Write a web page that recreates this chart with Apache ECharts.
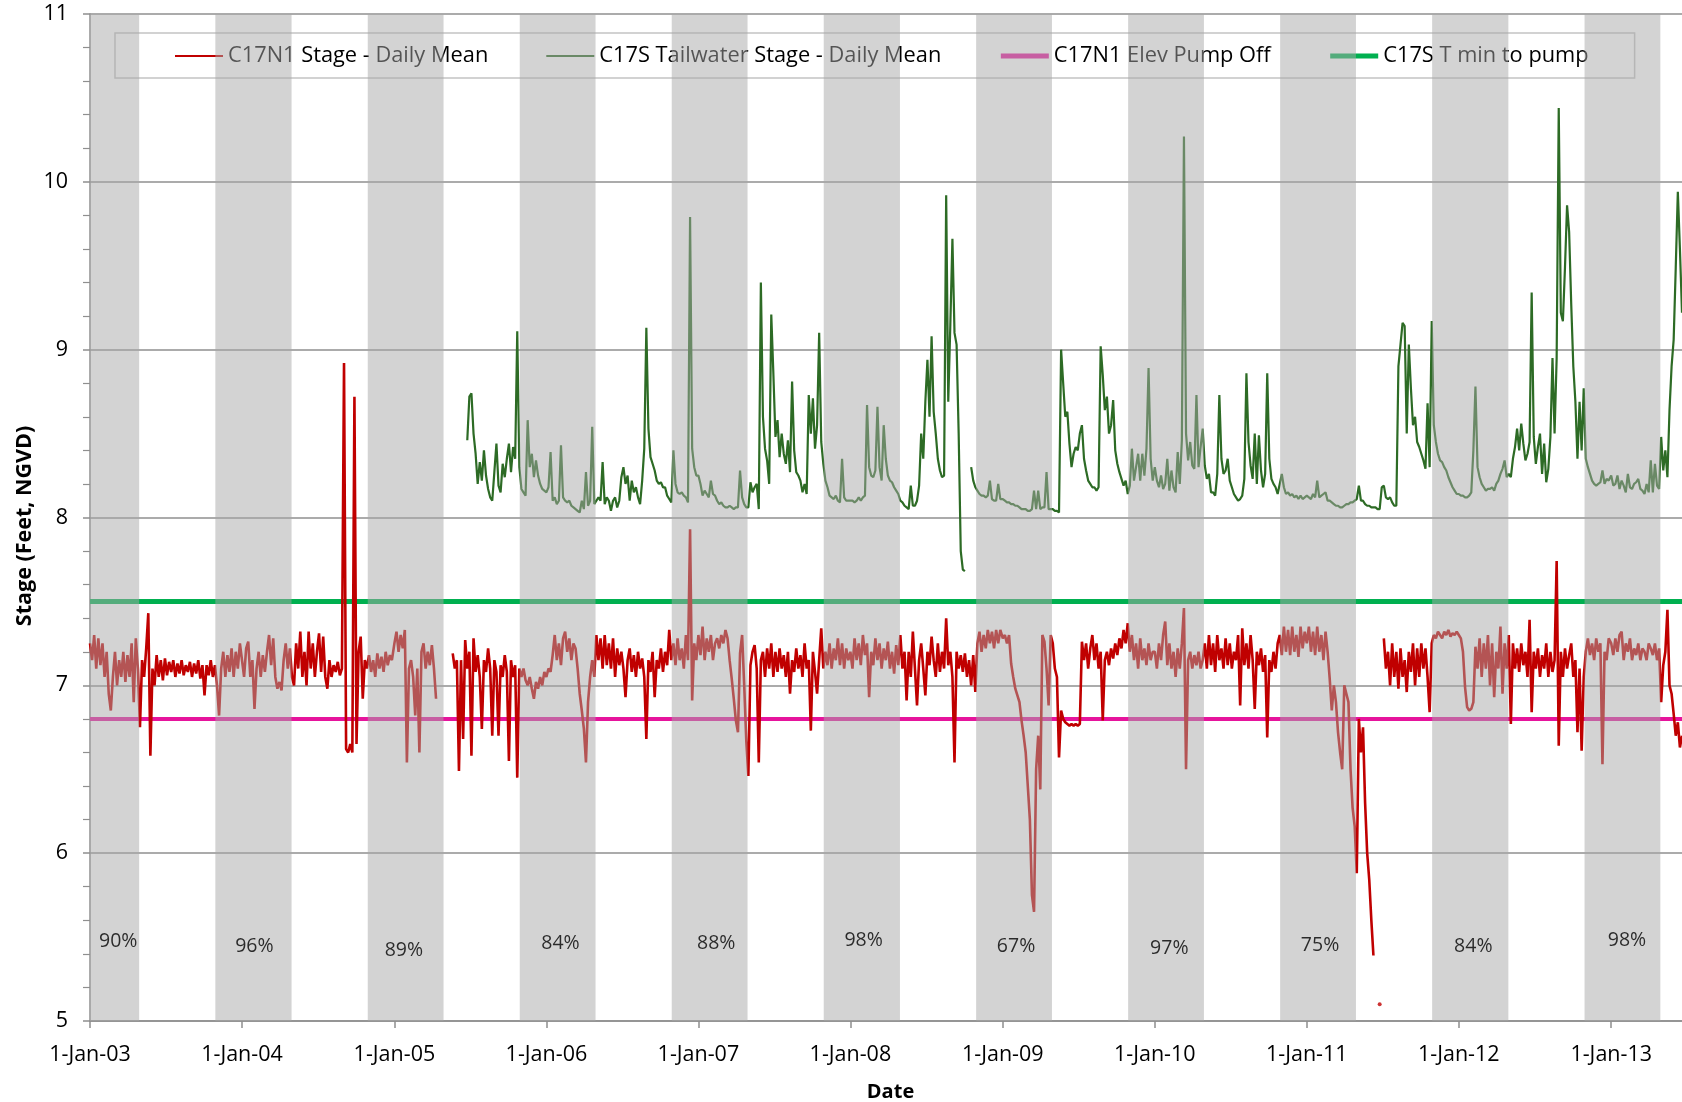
<!DOCTYPE html>
<html><head><meta charset="utf-8">
<script src="https://cdn.jsdelivr.net/npm/echarts@6/dist/echarts.min.js"></script>
<style>html,body{margin:0;padding:0;background:#fff}#c{width:1682px;height:1102px}</style>
</head><body><div id="c"></div>
<script>
const STEP = 5; // days between stored readings
// C17N1 Stage - Daily Mean (one reading every 5 days from Jan 1 of each year)
const c17n1_2003 = [7.25,7.15,7.3,7.1,7.28,7.12,7.25,7.05,7.2,6.95,6.85,7.05,7.2,7.0,7.15,7.05,7.2,7.02,7.18,7.05,7.25,6.9,7.28,7.1,6.75,7.15,7.05,7.22,7.43,6.58,7.1,7.0,7.18,7.05,7.15,7.03,7.16,7.06,7.14,7.08,7.15,7.05,7.13,7.07,7.15,7.06,7.12,7.08,7.14,7.05,7.13,7.07,7.15,7.04,7.12,6.94,7.12,7.06,7.15,7.05,7.12,7.0,6.82,7.1,7.2,7.05,7.18,7.08,7.22,7.05,7.2,7.1,7.25];
const c17n1_2004 = [7.15,7.05,7.22,7.26,7.05,7.15,6.86,7.1,7.2,7.05,7.18,7.08,7.2,7.3,7.12,7.28,7.05,6.98,7.02,6.97,7.15,7.25,7.1,7.22,7.05,7.0,7.25,7.1,7.32,7.05,7.2,7.0,7.32,7.1,7.25,7.05,7.2,7.31,7.08,7.29,7.05,6.98,7.15,7.05,7.12,7.08,7.14,7.06,7.1,8.92,6.62,6.6,6.65,6.6,8.72,6.65,7.2,7.29,6.92,7.15,7.1,7.18,7.08,7.15,7.05,7.19,7.1,7.17,7.08,7.2,7.12,7.18,7.15];
const c17n1_2005 = [7.25,7.32,7.2,7.3,7.22,7.33,6.54,7.1,7.15,7.05,6.82,7.1,6.6,7.2,7.25,7.1,7.2,7.12,7.24,7.1,6.92,null,null,null,null,null,null,null,7.19,7.1,7.15,6.49,7.15,6.68,7.27,7.1,7.2,6.58,7.28,7.08,7.18,7.05,6.74,7.15,7.08,7.22,7.1,6.7,7.15,7.08,6.7,7.12,7.05,7.18,7.08,6.55,7.15,7.05,7.12,6.45,7.1,7.05,7.1,7.03,7.0,7.05,6.98,6.92,7.02,6.98,7.05,7.0,7.08];
const c17n1_2006 = [7.05,7.1,7.08,7.18,7.3,7.15,7.25,7.12,7.28,7.32,7.2,7.28,7.15,7.25,7.22,7.1,6.95,6.85,6.74,6.54,6.9,7.05,7.15,7.05,7.3,7.15,7.28,7.1,7.3,7.12,7.25,7.1,7.28,7.05,7.22,7.12,7.2,7.1,6.93,7.15,7.22,7.08,7.18,7.05,7.2,7.1,7.16,7.05,6.68,7.15,7.08,7.2,6.93,7.15,7.1,7.22,7.08,7.2,7.12,7.33,7.15,7.25,7.12,7.28,7.15,7.22,7.1,7.3,7.15,7.93,6.91,7.25,7.15];
const c17n1_2007 = [7.3,7.18,7.35,7.15,7.28,7.2,7.3,7.15,7.25,7.28,7.22,7.3,7.25,7.33,7.28,7.15,7.04,6.92,6.79,6.72,7.19,7.3,7.0,6.67,6.46,7.12,7.2,7.24,7.1,6.54,7.15,7.2,7.05,7.22,7.1,7.25,7.05,7.2,7.08,7.22,7.1,7.18,7.05,7.2,6.95,7.15,7.08,7.22,7.1,7.18,7.05,7.25,7.1,7.15,6.73,7.2,7.08,6.95,7.15,7.34,7.1,7.2,7.12,7.25,7.1,7.22,7.15,7.28,7.12,7.25,7.1,7.22,7.15];
const c17n1_2008 = [7.2,7.1,7.28,7.15,7.25,7.12,7.3,7.18,7.25,6.93,7.2,7.12,7.28,7.15,7.25,7.1,7.22,7.15,7.26,7.1,7.2,7.07,7.24,7.12,7.3,7.1,7.2,6.91,7.2,7.05,7.32,7.1,6.88,7.15,7.25,7.1,6.94,7.2,7.12,7.29,7.15,7.05,7.25,7.08,7.2,7.1,7.4,7.12,7.2,7.05,6.54,7.2,7.1,7.18,7.08,7.19,7.05,7.15,7.0,7.18,6.96,7.25,7.32,7.2,7.3,7.22,7.33,7.25,7.32,7.22,7.33,7.25,7.33];
const c17n1_2009 = [7.28,7.3,7.25,7.3,7.13,7.05,6.98,6.94,6.9,6.79,6.7,6.6,6.4,6.2,5.75,5.65,6.5,6.7,6.38,7.3,7.26,7.1,6.88,7.3,7.25,7.1,7.05,6.57,6.85,6.8,6.78,6.77,6.76,6.77,6.76,6.77,6.76,6.77,7.26,7.15,7.25,7.1,7.22,7.3,7.15,7.25,7.1,7.2,6.79,7.15,7.2,7.12,7.22,7.16,7.25,7.18,7.28,7.22,7.33,7.25,7.37,7.2,7.3,7.15,7.25,7.1,7.28,7.15,7.22,7.12,7.25,7.15,7.2];
const c17n1_2010 = [7.2,7.1,7.25,7.15,7.3,7.38,7.12,7.25,7.1,7.2,7.05,7.22,7.1,7.25,7.46,6.5,7.15,7.2,7.1,7.18,7.12,7.2,7.1,7.15,7.25,7.1,7.3,7.12,7.25,7.08,7.3,7.15,7.22,7.1,7.28,7.12,7.25,7.1,7.2,7.15,7.3,6.88,7.34,7.12,7.25,7.1,7.3,7.15,6.86,7.2,7.12,7.22,7.08,7.18,6.69,7.15,7.08,7.2,7.1,7.25,7.3,7.18,7.35,7.2,7.33,7.18,7.35,7.2,7.3,7.17,7.35,7.22,7.32];
const c17n1_2011 = [7.25,7.35,7.2,7.32,7.18,7.35,7.2,7.3,7.15,7.32,7.2,7.04,6.85,7.0,6.9,6.72,6.6,6.5,7.0,6.95,6.9,6.5,6.27,6.16,5.88,6.8,6.6,6.75,6.3,6.0,5.84,5.6,5.39,null,null,null,null,7.28,7.1,7.2,7.0,7.25,7.05,7.2,6.98,7.22,7.05,7.15,6.96,7.2,7.08,7.25,7.0,7.22,7.05,7.25,7.1,7.22,7.05,6.84,7.25,7.3,7.28,7.32,7.3,7.28,7.32,7.3,7.33,7.29,7.31,7.3,7.32];
const c17n1_2012 = [7.3,7.28,7.2,6.99,6.87,6.85,6.86,6.9,7.23,7.1,7.28,7.05,7.25,7.1,7.3,7.0,7.25,6.93,7.2,7.1,7.35,6.95,7.25,7.1,7.3,6.77,7.25,7.1,7.22,7.08,7.25,7.12,7.2,7.05,7.39,6.84,7.2,7.1,7.22,7.05,7.18,7.1,7.25,7.05,7.2,7.08,7.15,7.74,6.64,7.2,7.05,7.22,7.1,7.18,7.25,7.05,7.15,6.72,7.1,6.61,7.05,7.2,7.28,7.18,7.25,7.15,7.28,7.2,7.25,6.53,7.2,7.15,7.28];
const c17n1_2013 = [7.25,7.18,7.28,7.2,7.3,7.32,7.15,7.25,7.2,7.28,7.15,7.22,7.18,7.25,7.15,7.22,7.2,7.15,7.25,7.22,7.18,7.25,7.15,7.22,6.9,7.12,7.2,7.45,7.0,6.95,6.83,6.7,6.78,6.63,6.7];
const c17n1Isolated = [['2011-06-25', 5.1]];

// C17S Tailwater Stage - Daily Mean
const c17s_2005 = [8.46,8.72,8.74,8.5,8.38,8.2,8.33,8.22,8.4,8.25,8.17,8.12,8.1,8.27,8.44,8.19,8.15,8.32,8.24,8.35,8.44,8.27,8.42,8.35,9.11,8.3,8.17,8.15,8.13,8.58,8.3,8.38,8.24,8.34,8.25,8.2,8.17,8.16];
const c17s_2006 = [8.15,8.18,8.39,8.1,8.12,8.08,8.1,8.43,8.12,8.1,8.09,8.1,8.07,8.06,8.05,8.04,8.03,8.1,8.05,8.27,8.07,8.1,8.54,8.08,8.1,8.12,8.1,8.33,8.08,8.12,8.1,8.04,8.1,8.12,8.06,8.1,8.24,8.3,8.2,8.25,8.1,8.22,8.15,8.18,8.12,8.08,8.22,8.41,9.13,8.53,8.36,8.32,8.28,8.22,8.2,8.21,8.18,8.18,8.13,8.11,8.09,8.4,8.2,8.15,8.14,8.15,8.13,8.12,8.09,9.79,8.41,8.3,8.25];
const c17s_2007 = [8.25,8.2,8.13,8.16,8.14,8.12,8.22,8.14,8.13,8.1,8.08,8.09,8.07,8.06,8.06,8.07,8.06,8.05,8.06,8.06,8.28,8.12,8.08,8.06,8.06,8.21,8.15,8.18,8.2,8.05,9.4,8.6,8.41,8.34,8.2,9.21,8.86,8.48,8.58,8.36,8.5,8.38,8.32,8.46,8.27,8.81,8.4,8.27,8.25,8.22,8.15,8.2,8.14,8.73,8.5,8.71,8.41,8.55,9.1,8.45,8.32,8.22,8.18,8.13,8.12,8.11,8.13,8.1,8.09,8.35,8.12,8.1,8.1];
const c17s_2008 = [8.1,8.1,8.09,8.1,8.12,8.1,8.12,8.13,8.67,8.3,8.25,8.24,8.28,8.66,8.3,8.22,8.55,8.35,8.25,8.22,8.21,8.18,8.16,8.14,8.1,8.09,8.07,8.06,8.05,8.19,8.07,8.07,8.1,8.19,8.5,8.35,8.69,8.94,8.6,9.08,8.63,8.5,8.35,8.28,8.24,8.25,9.92,8.69,9.15,9.66,9.1,9.03,8.5,7.8,7.69,7.68,null,null,8.3,8.22,8.18,8.16,8.14,8.13,8.13,8.12,8.13,8.22,8.11,8.1,8.1,8.2,8.11];
const c17s_2009 = [8.11,8.1,8.09,8.09,8.08,8.08,8.07,8.07,8.06,8.05,8.05,8.05,8.04,8.04,8.05,8.16,8.05,8.16,8.05,8.06,8.06,8.27,8.05,8.05,8.05,8.04,8.04,8.03,9.0,8.8,8.6,8.63,8.44,8.3,8.38,8.42,8.4,8.5,8.55,8.35,8.28,8.22,8.2,8.18,8.18,8.16,8.18,9.02,8.85,8.64,8.72,8.5,8.55,8.7,8.4,8.32,8.27,8.23,8.19,8.22,8.14,8.19,8.41,8.22,8.3,8.38,8.22,8.38,8.25,8.41,8.89,8.35,8.22];
const c17s_2010 = [8.3,8.22,8.18,8.25,8.17,8.2,8.35,8.16,8.28,8.18,8.15,8.39,8.2,8.46,10.27,8.5,8.34,8.45,8.31,8.29,8.73,8.3,8.42,8.53,8.31,8.23,8.26,8.15,8.15,8.13,8.26,8.73,8.35,8.26,8.28,8.35,8.22,8.18,8.14,8.12,8.1,8.11,8.13,8.23,8.86,8.45,8.31,8.23,8.5,8.2,8.49,8.28,8.18,8.26,8.86,8.35,8.23,8.2,8.18,8.14,8.2,8.26,8.18,8.14,8.15,8.13,8.14,8.12,8.13,8.11,8.13,8.11,8.12];
const c17s_2011 = [8.13,8.12,8.11,8.14,8.12,8.22,8.12,8.13,8.14,8.15,8.1,8.1,8.09,8.08,8.07,8.07,8.06,8.06,8.07,8.08,8.08,8.09,8.09,8.1,8.11,8.19,8.1,8.1,8.08,8.07,8.07,8.06,8.06,8.06,8.05,8.05,8.18,8.19,8.12,8.11,8.12,8.09,8.07,8.07,8.9,9.03,9.16,9.14,8.5,9.03,8.77,8.55,8.6,8.45,8.42,8.38,8.34,8.29,8.68,8.3,9.17,8.55,8.45,8.38,8.34,8.33,8.3,8.28,8.24,8.21,8.18,8.16,8.14];
const c17s_2012 = [8.14,8.13,8.13,8.12,8.12,8.13,8.15,8.4,8.78,8.3,8.24,8.2,8.18,8.16,8.17,8.17,8.18,8.16,8.2,8.22,8.26,8.29,8.34,8.24,8.26,8.24,8.35,8.42,8.53,8.4,8.56,8.44,8.34,8.38,8.45,9.34,8.48,8.32,8.42,8.5,8.26,8.44,8.21,8.29,8.48,8.95,8.5,8.95,10.44,9.22,9.17,9.49,9.86,9.7,9.27,8.9,8.69,8.35,8.69,8.4,8.77,8.35,8.3,8.26,8.22,8.2,8.19,8.2,8.21,8.28,8.2,8.23,8.22];
const c17s_2013 = [8.25,8.19,8.2,8.25,8.17,8.22,8.19,8.15,8.26,8.18,8.17,8.2,8.21,8.23,8.17,8.16,8.14,8.2,8.15,8.34,8.15,8.32,8.19,8.17,8.48,8.28,8.4,8.24,8.64,8.9,9.06,9.49,9.94,9.6,9.22];

// [year, first day offset, readings]
const c17n1Segments = [[2003,0,c17n1_2003],[2004,0,c17n1_2004],[2005,0,c17n1_2005],[2006,0,c17n1_2006],[2007,0,c17n1_2007],[2008,0,c17n1_2008],[2009,0,c17n1_2009],[2010,0,c17n1_2010],[2011,0,c17n1_2011],[2012,0,c17n1_2012],[2013,0,c17n1_2013]];
const c17sSegments = [[2005,175,c17s_2005],[2006,0,c17s_2006],[2007,0,c17s_2007],[2008,0,c17s_2008],[2009,0,c17s_2009],[2010,0,c17s_2010],[2011,0,c17s_2011],[2012,0,c17s_2012],[2013,0,c17s_2013]];

const pumpOffElev = 6.8;   // C17N1 Elev Pump Off
const tMinToPump = 7.5;    // C17S T min to pump

// shaded dry-season bands and their percentages
const bandStarts = ['2003-01-01','2003-10-29','2004-10-29','2005-10-29','2006-10-29','2007-10-29','2008-10-29','2009-10-29','2010-10-29','2011-10-29','2012-10-29'];
const bandEnds   = ['2003-04-29','2004-04-29','2005-04-29','2006-04-29','2007-04-29','2008-04-29','2009-04-29','2010-04-29','2011-04-29','2012-04-29','2013-04-29'];
const bandPct    = ['90%','96%','89%','84%','88%','98%','67%','97%','75%','84%','98%'];
const pctDates   = ['2003-03-11','2004-02-01','2005-01-25','2006-02-05','2007-02-14','2008-02-03','2009-02-03','2010-02-06','2011-02-03','2012-02-06','2013-02-09'];
const pctY       = [5.47,5.44,5.42,5.46,5.46,5.48,5.44,5.43,5.45,5.44,5.48];

const xMin = '2003-01-01', xMax = '2013-06-20';
const xTickDates = ['2003-01-01','2004-01-01','2005-01-01','2006-01-01','2007-01-01','2008-01-01','2009-01-01','2010-01-01','2011-01-01','2012-01-01','2013-01-01'];
const yTicks = {min:5, max:11, interval:1};
const MONTHS = ['Jan','Feb','Mar','Apr','May','Jun','Jul','Aug','Sep','Oct','Nov','Dec'];

const ts = s => { const p = s.split('-').map(Number); return new Date(p[0], p[1] - 1, p[2]).getTime(); };
function build(segs){
  const out = [];
  segs.forEach(([y, start, vals]) => {
    vals.forEach((v, i) => {
      out.push([new Date(y, 0, 1 + start + i * STEP).getTime(), v == null ? null : v]);
    });
  });
  return out;
}
const FONT = "'Open Sans', sans-serif";
const AX = '#8f8f8f';
const chart = echarts.init(document.getElementById('c'));
chart.setOption({
  animation: false,
  textStyle: {fontFamily: FONT},
  grid: {left: 90, right: 0, top: 14, bottom: 81, containLabel: false, outerBoundsMode: 'none'},
  legend: {
    z: 3, left: 115, top: 33, itemWidth: 48, itemHeight: 14, itemGap: 57,
    padding: [12, 46, 11, 59], borderColor: '#c4c4c4', borderWidth: 1.5, backgroundColor: '#fff',
    itemStyle: {opacity: 0},
    textStyle: {fontSize: 21.8, color: '#000', fontFamily: FONT},
    data: [
      {name: 'C17N1 Stage - Daily Mean', lineStyle: {width: 2}},
      {name: 'C17S Tailwater Stage - Daily Mean', lineStyle: {width: 2}},
      {name: 'C17N1 Elev Pump Off', lineStyle: {width: 5}},
      {name: 'C17S T min to pump', lineStyle: {width: 5}}
    ]
  },
  xAxis: {
    type: 'value', min: ts(xMin), max: ts(xMax),
    axisLine: {lineStyle: {color: AX, width: 1.5}},
    axisTick: {show: true, length: 7, lineStyle: {color: AX, width: 1.5}, customValues: xTickDates.map(ts)},
    splitLine: {show: false},
    axisLabel: {
      fontSize: 21.5, color: '#000', margin: 23, fontFamily: FONT,
      customValues: xTickDates.map(ts),
      formatter: v => { const d = new Date(v); return d.getDate() + '-' + MONTHS[d.getMonth()] + '-' + String(d.getFullYear()).slice(2); }
    },
    name: 'Date', nameLocation: 'middle', nameGap: 61, nameMoveOverlap: false,
    nameTextStyle: {fontWeight: 'bold', fontSize: 20, color: '#000', fontFamily: FONT, padding: [0, 0, 0, 9]}
  },
  yAxis: {
    type: 'value', min: yTicks.min, max: yTicks.max, interval: yTicks.interval,
    axisLine: {show: true, lineStyle: {color: AX, width: 1.5}},
    axisTick: {show: true, length: 7, lineStyle: {color: AX, width: 1.5}},
    minorTick: {show: true, splitNumber: 5, length: 7, lineStyle: {color: AX, width: 1.2}},
    splitLine: {show: true, lineStyle: {color: AX, width: 1.5}},
    axisLabel: {fontSize: 21.5, color: '#000', margin: 22, fontFamily: FONT},
    name: 'Stage (Feet, NGVD)', nameLocation: 'middle', nameGap: 54, nameMoveOverlap: false,
    nameTextStyle: {fontWeight: 'bold', fontSize: 21.5, color: '#000', fontFamily: FONT, padding: [0, 17, 0, 0]}
  },
  series: [
    {name: 'C17N1 Elev Pump Off', type: 'line', symbol: 'none', z: 2, silent: true,
     data: [[ts(xMin), pumpOffElev], [ts(xMax), pumpOffElev]],
     lineStyle: {color: '#e6149c', width: 4}, itemStyle: {color: '#e6149c'}},
    {name: 'C17S T min to pump', type: 'line', symbol: 'none', z: 2, silent: true,
     data: [[ts(xMin), tMinToPump], [ts(xMax), tMinToPump]],
     lineStyle: {color: '#00b050', width: 5}, itemStyle: {color: '#00b050'}},
    {name: 'C17N1 Stage - Daily Mean', type: 'line', symbol: 'none', z: 3, silent: true, connectNulls: false,
     data: build(c17n1Segments), lineStyle: {color: '#c00000', width: 2.6}, itemStyle: {color: '#c00000'}},
    {name: 'C17S Tailwater Stage - Daily Mean', type: 'line', symbol: 'none', z: 3, silent: true, connectNulls: false,
     data: build(c17sSegments), lineStyle: {color: '#2d6b25', width: 2.2}, itemStyle: {color: '#2d6b25'}},
    {name: 'isolated', type: 'scatter', z: 3, silent: true, symbolSize: 4,
     data: c17n1Isolated.map(p => [ts(p[0]), p[1]]), itemStyle: {color: '#c00000'}},
    {name: 'bands', type: 'line', z: 20, silent: true, data: [],
     markArea: {z: 20, silent: true, label: {show: false},
       itemStyle: {color: 'rgba(168,168,168,0.5)'},
       data: bandStarts.map((s, i) => [{xAxis: ts(s)}, {xAxis: ts(bandEnds[i])}])}},
    {name: 'pct', type: 'scatter', z: 30, silent: true, symbol: 'circle', symbolSize: 1,
     itemStyle: {color: 'rgba(0,0,0,0)'},
     data: pctDates.map((d, i) => [ts(d), pctY[i], bandPct[i]]),
     label: {show: true, position: [0, 0], align: 'center', verticalAlign: 'middle',
       formatter: p => p.data[2], fontSize: 19.5, color: '#000', fontFamily: FONT}}
  ]
});
</script></body></html>
